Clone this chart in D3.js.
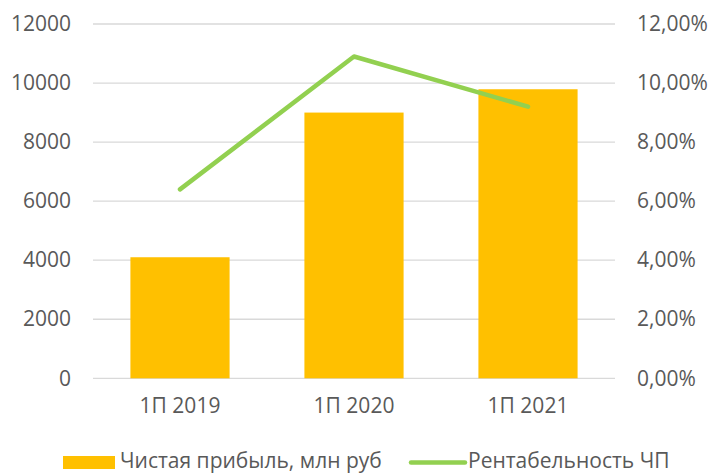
<!DOCTYPE html>
<html>
<head>
<meta charset="utf-8">
<script src="https://cdn.jsdelivr.net/npm/d3@7"></script>
<style>
	body { margin: 0; background: #fff; }
	text { font-family: "Open Sans", sans-serif; fill: #595959; }
</style>
</head>
<body>
<div class="container"></div>
<script>
const WIDTH = 710
	, HEIGHT = 474
	, LEFT = 93
	, RIGHT = 615
	, TOP = 24
	, BOTTOM = 378.3
	, FONT = '21px';

// data
var categories = ['1П 2019', '1П 2020', '1П 2021'];
var profit = [4100, 9000, 9790];
var margin = [0.064, 0.109, 0.092];
var leftTicks = [0, 2000, 4000, 6000, 8000, 10000, 12000];
var rightTicks = [0, 0.02, 0.04, 0.06, 0.08, 0.10, 0.12];
var seriesNames = ['Чистая прибыль, млн руб', 'Рентабельность ЧП'];

var BAR_COLOR = '#FFC000', LINE_COLOR = '#92D050';

var svg = d3.select('.container').append('svg')
	.attr('width', WIDTH)
	.attr('height', HEIGHT);

var x = d3.scaleBand()
	.domain(categories)
	.range([LEFT, RIGHT])
	.paddingInner(0.43)
	.paddingOuter(0.215);

var y = d3.scaleLinear().domain([0, 12000]).range([BOTTOM, TOP]);
var y2 = d3.scaleLinear().domain([0, 0.12]).range([BOTTOM, TOP]);

// grid
svg.append('g').selectAll('line').data(leftTicks).enter().append('line')
	.attr('x1', LEFT).attr('x2', RIGHT)
	.attr('y1', function (d) { return y(d); })
	.attr('y2', function (d) { return y(d); })
	.attr('stroke', '#d9d9d9')
	.attr('stroke-width', 1.3);

// left axis
var leftAxis = d3.axisLeft(y).tickValues(leftTicks).tickSize(0).tickPadding(0)
	.tickFormat(d3.format('d'));
svg.append('g')
	.attr('transform', 'translate(71,0)')
	.call(leftAxis)
	.call(function (g) { g.select('.domain').remove(); })
	.selectAll('text')
	.style('font-size', FONT)
	.attr('fill', '#595959');

// right axis
var rightAxis = d3.axisRight(y2).tickValues(rightTicks).tickSize(0).tickPadding(0)
	.tickFormat(function (d) { return d3.format('.2f')(d * 100).replace('.', ',') + '%'; });
svg.append('g')
	.attr('transform', 'translate(637,0)')
	.call(rightAxis)
	.call(function (g) { g.select('.domain').remove(); })
	.selectAll('text')
	.style('font-size', FONT)
	.attr('fill', '#595959');

// bars
svg.append('g').selectAll('rect').data(profit).enter().append('rect')
	.attr('x', function (d, i) { return x(categories[i]); })
	.attr('y', function (d) { return y(d); })
	.attr('width', x.bandwidth())
	.attr('height', function (d) { return BOTTOM - y(d); })
	.attr('fill', BAR_COLOR);

// x labels
var bottomAxis = d3.axisBottom(x).tickSize(0).tickPadding(0);
svg.append('g')
	.attr('transform', 'translate(0,398)')
	.call(bottomAxis)
	.call(function (g) { g.select('.domain').remove(); })
	.selectAll('text')
	.style('font-size', FONT)
	.attr('fill', '#595959');

// line
var line = d3.line()
	.x(function (d, i) { return x(categories[i]) + x.bandwidth() / 2; })
	.y(function (d) { return y2(d); });

svg.append('path')
	.attr('d', line(margin))
	.attr('fill', 'none')
	.attr('stroke', LINE_COLOR)
	.attr('stroke-width', 4.5)
	.attr('stroke-linecap', 'round')
	.attr('stroke-linejoin', 'round');

// legend
var legend = svg.append('g');
legend.append('rect')
	.attr('x', 63).attr('y', 456)
	.attr('width', 52).attr('height', 13)
	.attr('fill', BAR_COLOR);
legend.append('text')
	.attr('x', 120).attr('y', 468)
	.style('font-size', FONT)
	.text(seriesNames[0]);
legend.append('line')
	.attr('x1', 411).attr('x2', 465)
	.attr('y1', 462.5).attr('y2', 462.5)
	.attr('stroke', LINE_COLOR)
	.attr('stroke-width', 4.5)
	.attr('stroke-linecap', 'round');
legend.append('text')
	.attr('x', 468).attr('y', 468)
	.style('font-size', FONT)
	.text(seriesNames[1]);
</script>
</body>
</html>
